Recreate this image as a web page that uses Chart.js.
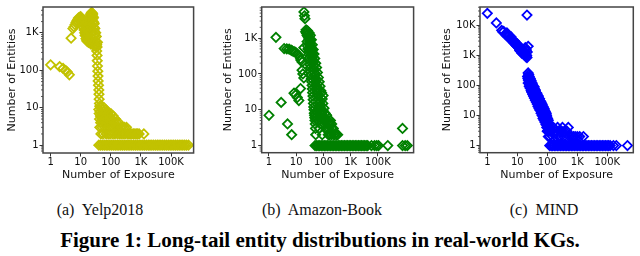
<!DOCTYPE html>
<html>
<head>
<meta charset="utf-8">
<script src="https://cdn.jsdelivr.net/npm/chart.js@4.4.1/dist/chart.umd.min.js"></script>
<style>
  body { margin: 0; background: #fff; }
  #page { position: relative; width: 640px; height: 256px; overflow: hidden; background: #fff; }
  canvas { position: absolute; top: 0; }
  .sub { position: absolute; top: 201px; font: 16px 'Liberation Serif', serif; color: #111; white-space: pre; transform: translateX(-50%); }
  #caption { position: absolute; left: 0; width: 640px; top: 228px; text-align: center; font: bold 21px 'Liberation Serif', serif; color: #000; }
</style>
</head>
<body>
<div id="page">
  <canvas id="yelpChart" width="200" height="182" style="left:0px"></canvas>
  <canvas id="amazonChart" width="204" height="182" style="left:216px"></canvas>
  <canvas id="mindChart" width="210" height="182" style="left:430px"></canvas>
  <div class="sub" style="left:100px">(a)  Yelp2018</div>
  <div class="sub" style="left:322px">(b)  Amazon-Book</div>
  <div class="sub" style="left:544px">(c)  MIND</div>
  <div id="caption">Figure 1: Long-tail entity distributions in real-world KGs.</div>
</div>
<script>
// tick values / labels (the original figure labels 10^4 as "100K")
const xTickValues = [1, 10, 100, 1000, 10000];
const xTickLabels = ['1', '10', '100', '1K', '100K'];
const yTickValues = [1, 10, 100, 1000];
const yTickLabels = ['1', '10', '100', '1K'];
const mindYTickValues = [1, 10, 100, 1000, 10000];
const mindYTickLabels = ['1', '10', '100', '1K', '10K'];

// Yelp2018: [exposure, entities]
const yelpPoints = [
  [1, 140], [2, 125], [2.6, 112], [3.2, 98], [3.6, 90], [4.2, 76], [4.8, 720],
  [5.5, 1300], [6, 1450], [6.5, 1650], [7, 1900], [7.5, 2100], [8, 2300], [8.5, 2500], [9, 2400],
  [9.5, 2650], [10, 2700], [10.5, 2500], [11, 2300], [11, 1900], [11.5, 2100], [12, 1700],
  [12.5, 1400], [12.8, 2200], [13, 1200], [13.5, 1000], [14, 850], [14, 1800], [14.5, 1300],
  [15, 700], [15, 1500], [15.5, 1000], [16, 800], [16, 2000], [16, 620], [16.5, 600], [17, 1100],
  [17, 1600], [17.5, 900], [18, 700], [18, 1300], [18, 560], [18.5, 1500], [19, 1200], [19.5, 2000],
  [20, 1600], [20, 650], [20.5, 2600], [21, 3000], [21.5, 2200], [22, 3300], [22, 500], [22.5, 2700],
  [23, 3500], [23.5, 3100], [24, 3400], [24, 700], [24.5, 2800], [25, 3200], [25.5, 2400], [26, 2000],
  [26, 550], [26.5, 2600], [27, 1700], [27.5, 1400], [28, 1800], [28, 450], [28.5, 1100], [29, 900],
  [29.5, 1300], [30, 750], [31, 600], [31.5, 1000], [32, 520], [33, 800], [34, 480], [35, 420], [36, 560],
  [33, 420], [34, 330], [35, 250], [35.5, 180], [36, 130], [37, 95], [37.5, 70], [38, 52], [39, 40],
  [40, 30], [40.5, 23], [41, 17], [42, 13], [43, 11],
  [40, 9], [41, 7], [42, 5], [43, 3], [44, 8], [45, 6], [46, 4], [47, 2], [48, 10], [49, 7], [50, 5],
  [51, 3], [52, 9], [54, 6], [55, 4], [56, 2], [58, 8], [60, 10], [62, 5], [63, 3], [65, 7], [67, 9],
  [68, 4], [70, 2], [72, 6], [74, 8], [76, 3], [78, 5], [80, 7], [83, 2], [85, 4], [88, 6], [90, 3],
  [93, 5], [96, 2], [100, 7], [104, 4], [108, 3], [112, 5], [116, 2], [120, 6], [125, 3], [130, 4],
  [136, 2], [142, 5], [150, 3], [158, 4], [166, 2], [175, 3], [185, 4], [195, 2], [210, 3], [225, 2],
  [240, 3], [260, 2], [280, 3], [300, 2], [330, 3], [360, 2], [400, 2], [450, 2], [500, 2], [560, 2],
  [630, 2], [700, 2], [780, 2], [870, 2], [1250, 2]
];
// Yelp2018 exposures with a single entity
const yelpSingles = [
  40, 46, 53, 61, 70, 80, 92, 106, 122, 140, 161, 185, 213, 245, 282, 325, 374, 430, 495, 570,
  655, 755, 870, 1000, 1150, 1320, 1520, 1750, 2000, 2300, 2650, 3050, 3500, 4000, 4600, 5300,
  6100, 7000, 8100, 9300, 10700, 12300, 14100, 16200, 18600, 21400, 24600, 28300, 32500, 38000
];

// Amazon-Book: [exposure, entities]
const amazonPoints = [
  [1, 7], [1.8, 1050], [2.8, 16], [4.8, 4], [6.8, 2], [3.6, 510], [4.5, 500], [5.5, 490], [6.5, 460],
  [7.2, 440], [8.3, 420], [9.5, 400], [11, 360], [12.5, 320], [14.4, 265], [16.4, 215], [15, 240],
  [19, 540], [16.4, 127], [19, 77], [17.5, 100], [14.4, 39], [8.3, 29], [9.5, 26], [11, 22], [12.5, 18],
  [19.2, 5400], [20, 4200], [21, 3500],
  [22, 1500], [23, 1700], [24, 1350], [25, 1200], [26, 1600], [27, 1100], [28, 1300], [29, 950],
  [30, 1100], [31, 800], [32, 900], [33, 700], [34, 620], [35, 550], [36, 480], [37, 420], [38, 360],
  [40, 300], [41, 250], [42, 210], [44, 170], [45, 140], [47, 110], [48, 90], [50, 75], [52, 60],
  [54, 48], [56, 40], [58, 34], [60, 28], [63, 24], [66, 20], [70, 16], [74, 13], [78, 11], [82, 9],
  [86, 8], [90, 7], [95, 6], [100, 5], [110, 4], [120, 3], [135, 3], [150, 2], [170, 2], [200, 2],
  [240, 2], [300, 2],
  [25, 800], [26, 600], [27, 500], [28, 420], [29, 350], [30, 280], [31, 230], [32, 180], [33, 150],
  [34, 120], [35, 95], [36, 75], [37, 60], [38, 48], [39, 38], [40, 30], [41, 24], [42, 19], [43, 15],
  [44, 12], [45, 10], [46, 8], [47, 7], [48, 6], [49, 5], [50, 4], [51, 3], [52, 2],
  [30, 1400], [33, 1200], [36, 900], [39, 650], [42, 480], [45, 360], [48, 270], [52, 200], [56, 150],
  [60, 110], [65, 80], [70, 60], [75, 45], [80, 34], [85, 30], [97, 25], [90, 20], [95, 15], [105, 11],
  [115, 8], [128, 7], [145, 5], [170, 4], [200, 3],
  [55, 9], [60, 7], [65, 5], [70, 3], [75, 8], [80, 6], [85, 4], [90, 2], [100, 9], [110, 6], [120, 5],
  [130, 7], [140, 4], [160, 3], [180, 5], [200, 4], [230, 3], [260, 2], [333, 2],
  [80000, 3]
];
const amazonSingles = [
  49, 56, 64, 73, 83, 95, 108, 123, 140, 160, 182, 208, 237, 270, 308, 351, 400, 456, 520, 593,
  676, 771, 879, 1000, 1140, 1300, 1480, 1690, 1930, 2200, 2500, 2850, 3250, 3700, 4200, 5800,
  7500, 9000, 10500, 23000, 80000, 100000, 120000
];

// MIND: [exposure, entities]
const mindPoints = [
  [1, 25000], [2, 12000], [21, 22000],
  [3, 6800], [3.3, 6000], [3.5, 6300], [4, 5200], [4.3, 4600], [4.6, 4900], [5, 4200], [5.4, 3700],
  [5.8, 4000], [6, 3500], [6.5, 3100], [7, 3200], [7.5, 2700], [8, 2600], [8.5, 2300], [9, 2500],
  [9.5, 2100], [10, 2000], [10.5, 1900], [11, 2100], [11.5, 1700], [12, 1800], [12.5, 1500],
  [13, 1650], [13.5, 1400], [14, 1500], [14.5, 1250], [15, 1350], [16, 1150], [16.5, 1300],
  [17, 1050], [17.5, 1200], [18, 1000], [18.5, 1800], [19, 1100], [19.5, 900], [20, 1500],
  [20.5, 1000], [21, 850], [21.5, 1300], [23, 2000],
  [4.5, 5600], [6.2, 4100], [8, 3000], [10, 2400], [12, 1450], [14, 1200], [16, 1450], [18, 1250],
  [22, 200], [22.5, 170], [23, 190], [23.5, 150], [24, 165], [25, 140], [25.5, 120], [26, 130],
  [27, 110], [27.5, 120], [28, 100], [29, 105], [30, 90], [31, 80], [32, 88], [33, 72], [34, 78],
  [35, 65], [36, 70], [37, 58], [38, 63], [40, 52], [41, 47], [42, 50], [44, 42], [45, 38], [47, 40],
  [48, 33], [50, 35], [52, 28], [54, 30], [56, 24], [58, 26], [60, 21], [63, 23], [65, 18], [68, 19],
  [70, 15], [73, 16], [76, 13], [80, 14], [83, 11], [86, 12], [90, 9], [94, 10], [98, 8], [100, 7],
  [104, 6], [108, 5], [112, 4], [115, 3], [120, 2],
  [24, 230], [28, 150], [32, 110], [36, 90], [40, 70], [45, 55], [50, 45], [55, 36], [60, 29],
  [66, 24], [72, 20], [78, 17], [85, 14], [92, 12], [26, 90], [30, 62], [34, 50], [38, 40], [42, 33],
  [47, 27], [52, 22], [58, 17], [64, 14], [70, 11], [76, 9], [82, 7], [88, 6], [95, 5],
  [23, 260], [25, 200], [27, 170], [29, 140], [31, 120], [33, 100], [35, 90], [37, 80], [40, 65],
  [43, 56], [46, 48], [49, 42], [53, 36], [57, 31], [62, 27], [67, 23], [72, 19], [78, 16], [84, 13],
  [90, 11], [96, 9], [102, 8], [108, 7],
  [23, 120], [25, 95], [27, 80], [29, 68], [31, 58], [33, 50], [35, 44], [37, 38], [40, 32], [43, 28],
  [46, 24], [49, 20], [53, 17], [57, 15], [62, 12], [67, 10], [72, 8], [78, 7], [84, 6], [90, 5],
  [96, 4], [102, 3], [108, 2],
  [100, 3], [110, 5], [125, 4], [135, 3], [150, 2], [160, 4], [175, 3], [190, 2], [200, 3], [220, 4],
  [240, 2], [260, 3], [280, 2], [300, 3], [320, 4], [350, 2], [380, 3], [420, 2], [450, 3], [500, 4],
  [550, 2], [650, 2], [750, 2], [850, 2], [1000, 2], [1200, 2], [1600, 2]
];
const mindSingles = [
  120, 135, 152, 171, 193, 217, 244, 275, 310, 349, 393, 443, 499, 562, 633, 713, 803, 905, 1020,
  1150, 1290, 1460, 1640, 1850, 2080, 2350, 2640, 2980, 3350, 3780, 4260, 4800, 5400, 6100, 6870,
  7740, 8720, 9830, 11000, 12500, 16000, 20000, 47000
];

const tickFont = { family: "'DejaVu Sans', sans-serif", size: 10 };
const titleFont = { family: "'DejaVu Sans', sans-serif", size: 11 };
const inkColor = '#111';

// box around the plot + small log ticks on the y axis
const framePlugin = {
  id: 'frame',
  afterDraw(chart) {
    const { ctx, chartArea: a, scales: { y } } = chart;
    ctx.save();
    ctx.strokeStyle = '#333';
    ctx.lineWidth = 0.8;
    ctx.beginPath();
    for (let d = 0.1; d <= y.max; d *= 10) {
      for (let m = 2; m <= 9; m++) {
        const v = d * m;
        if (v < y.min || v > y.max) continue;
        const py = y.getPixelForValue(v);
        ctx.moveTo(a.left, py);
        ctx.lineTo(a.left - 2, py);
      }
    }
    ctx.stroke();
    ctx.lineWidth = 1.5;
    ctx.strokeStyle = '#444';
    ctx.strokeRect(a.left, a.top, a.right - a.left, a.bottom - a.top);
    ctx.restore();
  }
};

function makeChart(id, color, pairs, singles, cfg) {
  const data = pairs.map(([x, y]) => ({ x, y })).concat(singles.map(x => ({ x, y: 1 })));
  return new Chart(document.getElementById(id), {
    type: 'scatter',
    data: {
      datasets: [{
        data: data,
        pointStyle: 'rectRot',
        radius: 4.6,
        borderWidth: 1.8,
        borderColor: color,
        backgroundColor: 'rgba(0,0,0,0)'
      }]
    },
    options: {
      responsive: false,
      animation: false,
      events: [],
      layout: { padding: { top: 1, right: cfg.padRight, left: 0, bottom: 0 } },
      plugins: { legend: { display: false }, tooltip: { enabled: false } },
      scales: {
        x: {
          type: 'logarithmic',
          bounds: 'data',
          min: cfg.xMin,
          max: cfg.xMax,
          afterBuildTicks: s => { s.ticks = xTickValues.map(v => ({ value: v })); },
          afterFit: s => { s.height = cfg.xHeight; },
          grid: { drawOnChartArea: false, tickLength: 3.5, tickColor: '#333' },
          border: { display: false },
          ticks: {
            autoSkip: false, maxRotation: 0, padding: 0, color: inkColor, font: tickFont,
            callback: v => xTickLabels[xTickValues.indexOf(v)]
          },
          title: { display: true, text: 'Number of Exposure', color: inkColor, font: titleFont, padding: { top: 0, bottom: 0 } }
        },
        y: {
          type: 'logarithmic',
          bounds: 'data',
          min: cfg.yMin,
          max: cfg.yMax,
          afterBuildTicks: s => { s.ticks = cfg.yTicks.map(v => ({ value: v })); },
          afterFit: s => { s.width = cfg.yWidth; },
          grid: { drawOnChartArea: false, tickLength: 3.5, tickColor: '#333' },
          border: { display: false },
          ticks: {
            autoSkip: false, padding: 1, color: inkColor, font: tickFont,
            callback: v => cfg.yLabels[cfg.yTicks.indexOf(v)]
          },
          title: { display: true, text: 'Number of Entities', color: inkColor, font: titleFont, padding: { top: cfg.yTitlePad, bottom: 0 } }
        }
      }
    },
    plugins: [framePlugin]
  });
}

makeChart('yelpChart', '#c2c200', yelpPoints, yelpSingles, {
  xMin: 0.56, xMax: 56000, yMin: 0.62, yMax: 4900,
  yTicks: yTickValues, yLabels: yTickLabels,
  yWidth: 43, yTitlePad: 5.1, xHeight: 29, padRight: 2
});
makeChart('amazonChart', '#008000', amazonPoints, amazonSingles, {
  xMin: 0.54, xMax: 204000, yMin: 0.63, yMax: 7400,
  yTicks: yTickValues, yLabels: yTickLabels,
  yWidth: 45.7, yTitlePad: 5.7, xHeight: 29.3, padRight: 2
});
makeChart('mindChart', '#0000ff', mindPoints, mindSingles, {
  xMin: 0.57, xMax: 73600, yMin: 0.58, yMax: 40700,
  yTicks: mindYTickValues, yLabels: mindYTickLabels,
  yWidth: 50, yTitlePad: 10.1, xHeight: 29.3, padRight: 6.7
});
</script>
</body>
</html>
